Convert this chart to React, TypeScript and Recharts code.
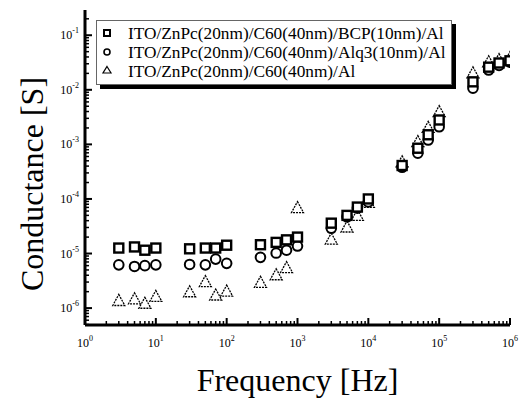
import React from 'react';
import { ScatterChart, Scatter, XAxis, YAxis, Legend, Label } from 'recharts';

// measurement frequencies [Hz]
const freqs = [3, 5, 7, 10, 30, 50, 70, 100, 300, 500, 700, 1000, 3000, 5000, 7000, 10000,
    30000, 50000, 70000, 100000, 300000, 500000, 700000, 1000000];

// conductance [S] per device
const bcpValues = [1.26e-5, 1.32e-5, 1.15e-5, 1.26e-5, 1.22e-5, 1.26e-5, 1.26e-5, 1.42e-5,
    1.45e-5, 1.6e-5, 1.78e-5, 2.0e-5, 3.6e-5, 5.0e-5, 7.1e-5, 1.0e-4,
    4.1e-4, 8.5e-4, 1.5e-3, 2.8e-3, 1.4e-2, 2.6e-2, 3.1e-2, 3.4e-2];
const alq3Values = [6.2e-6, 5.8e-6, 6.0e-6, 6.2e-6, 6.3e-6, 6.2e-6, 7.9e-6, 6.6e-6,
    8.5e-6, 1.02e-5, 1.15e-5, 1.37e-5, 2.9e-5, 4.7e-5, 6.8e-5, 8.8e-5,
    3.8e-4, 6.9e-4, 1.2e-3, 2.1e-3, 1.07e-2, 2.3e-2, 2.8e-2, 3.2e-2];
const bareValues = [1.35e-6, 1.45e-6, 1.2e-6, 1.6e-6, 1.95e-6, 3.0e-6, 1.7e-6, 2.0e-6,
    2.9e-6, 4.0e-6, 5.4e-6, 6.8e-5, 1.8e-5, 3.0e-5, 4.9e-5, 8.5e-5,
    4.7e-4, 1.1e-3, 2.0e-3, 3.9e-3, 2.0e-2, 3.2e-2, 3.5e-2, 3.8e-2];

const seriesNames = [
    'ITO/ZnPc(20nm)/C60(40nm)/BCP(10nm)/Al',
    'ITO/ZnPc(20nm)/C60(40nm)/Alq3(10nm)/Al',
    'ITO/ZnPc(20nm)/C60(40nm)/Al',
];

const xMajorTicks = [1, 10, 100, 1000, 10000, 100000, 1000000];
const yMajorTicks = [1e-6, 1e-5, 1e-4, 1e-3, 1e-2, 1e-1];
const xDomain = [1, 1e6];
const yDomain = [4.9e-7, 0.29];

const FONT = '"Liberation Serif", "Times New Roman", serif';

const withMinors = (majors: number[], lo: number, hi: number) => {
    const out: number[] = [];
    [majors[0] / 10, ...majors].forEach(m => {
        for (let k = 1; k <= 9; k++) {
            const v = m * k;
            if (v >= lo * 0.999 && v <= hi * 1.001) out.push(v);
        }
    });
    return out;
};

const xTicks = withMinors(xMajorTicks, xDomain[0], xDomain[1]);
const yTicks = withMinors(yMajorTicks, yDomain[0], yDomain[1]);

const expOf = (v: number) => Math.round(Math.log10(v));
const isMajor = (v: number) => Math.abs(Math.log10(v) - expOf(v)) < 1e-6;

const toData = (vals: number[]) => freqs.map((f, i) => ({ f, g: vals[i] }));

// tick renderers: ticks point inward, labels outside
const BottomTick = ({ x, y, payload }: any) => {
    const major = isMajor(payload.value);
    return (
        <g>
            <line x1={x} x2={x} y1={y} y2={y - (major ? 7 : 4)} stroke="#000" strokeWidth={major ? 2 : 1.5} />
            {major && (
                <text x={x} y={y + 22} textAnchor="middle" fontSize={12} fontFamily={FONT} fill="#000">
                    10<tspan dy={-6} fontSize={8}>{expOf(payload.value)}</tspan>
                </text>
            )}
        </g>
    );
};

const TopTick = ({ x, y, payload }: any) => {
    const major = isMajor(payload.value);
    return <line x1={x} x2={x} y1={y} y2={y + (major ? 7 : 4)} stroke="#000" strokeWidth={major ? 2 : 1.5} />;
};

const LeftTick = ({ x, y, payload }: any) => {
    const major = isMajor(payload.value);
    return (
        <g>
            <line x1={x} x2={x + (major ? 7 : 4)} y1={y} y2={y} stroke="#000" strokeWidth={major ? 2 : 1.5} />
            {major && (
                <text x={x - 6} y={y + 4} textAnchor="end" fontSize={12} fontFamily={FONT} fill="#000">
                    10<tspan dy={-6} fontSize={8}>{expOf(payload.value)}</tspan>
                </text>
            )}
        </g>
    );
};

const RightTick = ({ x, y, payload }: any) => {
    const major = isMajor(payload.value);
    return <line x1={x} x2={x - (major ? 7 : 4)} y1={y} y2={y} stroke="#000" strokeWidth={major ? 2 : 1.5} />;
};

// markers
const Square = ({ cx, cy }: any) => (
    <rect x={cx - 4.5} y={cy - 4.5} width={9} height={9} fill="#fff" stroke="#000" strokeWidth={2.4} />
);
const Circle = ({ cx, cy }: any) => (
    <circle cx={cx} cy={cy} r={4.8} fill="#fff" stroke="#000" strokeWidth={2} />
);
const Triangle = ({ cx, cy }: any) => (
    <polygon points={`${cx},${cy - 6.5} ${cx + 6},${cy + 4.5} ${cx - 6},${cy + 4.5}`}
        fill="#fff" stroke="#000" strokeWidth={1.3} strokeDasharray="2 1" />
);

const renderLegend = () => (
    <div style={{
        width: 354, height: 63, border: '1px solid #666', background: '#fff',
        boxShadow: '4px 4px 0 #000'
    }}>
        <svg width={354} height={63}>
            <rect x={7} y={9} width={6} height={6} fill="#fff" stroke="#000" strokeWidth={2} />
            <circle cx={10} cy={31} r={3} fill="#fff" stroke="#000" strokeWidth={1.6} />
            <polygon points="10,45.5 14,52 6,52" fill="#fff" stroke="#000" strokeWidth={1.2} />
            {seriesNames.map((name, i) => (
                <text key={i} x={31} y={18 + i * 19} fontSize={17.3} fontFamily={FONT} fill="#000">{name}</text>
            ))}
        </svg>
    </div>
);

export default function App() {
    return (
        <div style={{ position: 'absolute', left: 0, top: 0, background: '#fff' }}>
            <ScatterChart width={521} height={398} margin={{ top: 10, right: 11, left: 10, bottom: 13 }}>
                <XAxis
                    xAxisId="b" dataKey="f" type="number" scale="log" domain={xDomain} allowDataOverflow
                    ticks={xTicks} interval={0} tickSize={0} tickMargin={0} tickLine={false}
                    tick={BottomTick} height={60}
                    axisLine={{ stroke: '#000', strokeWidth: 3 }}
                >
                    <Label content={({ viewBox }: any) => (
                        <text x={viewBox.x + viewBox.width / 2} y={viewBox.y + 66} textAnchor="middle"
                            fontSize={32} fontFamily={FONT} fill="#000">Frequency [Hz]</text>
                    )} />
                </XAxis>
                <XAxis
                    xAxisId="t" orientation="top" dataKey="f" type="number" scale="log" domain={xDomain} allowDataOverflow
                    ticks={xTicks} interval={0} tickSize={0} tickMargin={0} tickLine={false}
                    tick={TopTick} height={0}
                    axisLine={{ stroke: '#000', strokeWidth: 3 }}
                />
                <YAxis
                    yAxisId="l" dataKey="g" type="number" scale="log" domain={yDomain} allowDataOverflow
                    ticks={yTicks} interval={0} tickSize={0} tickMargin={0} tickLine={false}
                    tick={LeftTick} width={75}
                    axisLine={{ stroke: '#000', strokeWidth: 3 }}
                >
                    <Label content={() => (
                        <text x={43} y={184} transform="rotate(-90 43 184)" textAnchor="middle"
                            fontSize={32} fontFamily={FONT} fill="#000">Conductance [S]</text>
                    )} />
                </YAxis>
                <YAxis
                    yAxisId="r" orientation="right" dataKey="g" type="number" scale="log" domain={yDomain} allowDataOverflow
                    ticks={yTicks} interval={0} tickSize={0} tickMargin={0} tickLine={false}
                    tick={RightTick} width={0}
                    axisLine={{ stroke: '#000', strokeWidth: 3 }}
                />
                <Legend
                    content={renderLegend} layout="horizontal" verticalAlign="middle" align="center"
                    wrapperStyle={{ top: 20, left: 96, width: 360, height: 70 }}
                />
                <Scatter xAxisId="b" yAxisId="l" name={seriesNames[2]} data={toData(bareValues)} shape={Triangle} isAnimationActive={false} />
                <Scatter xAxisId="b" yAxisId="l" name={seriesNames[1]} data={toData(alq3Values)} shape={Circle} isAnimationActive={false} />
                <Scatter xAxisId="b" yAxisId="l" name={seriesNames[0]} data={toData(bcpValues)} shape={Square} isAnimationActive={false} />
            </ScatterChart>
        </div>
    );
}
